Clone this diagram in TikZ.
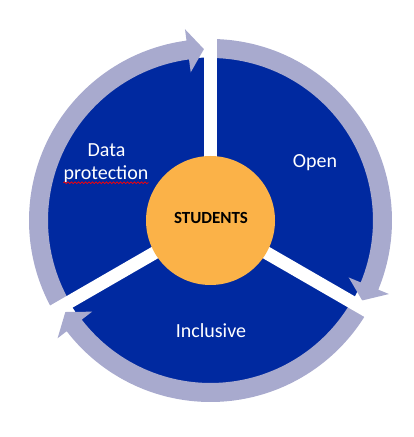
\documentclass[tikz,border=0pt]{standalone}
\usepackage{fontspec}
\setmainfont{Carlito}
\usetikzlibrary{decorations.pathmorphing}
\definecolor{diskblue}{RGB}{0,41,160}
\definecolor{ringlav}{RGB}{168,170,206}
\definecolor{studorange}{RGB}{251,178,72}
\tikzset{
  cyclearrow/.style={fill=ringlav, draw=none},
  sepline/.style={draw=white, line width=13pt},
  seglabel/.style={text=white, inner sep=0pt, anchor=base, font=\fontsize{20}{24}\selectfont},
}
\newcommand{\ringarrow}[2]{% start angle, tip angle
  \pgfmathsetmacro{\hb}{#2+5.4}
  \path[cyclearrow] (#1:181.5pt) arc[start angle=#1, end angle=\hb, radius=181.5pt]
    -- (\hb:193pt) -- (#2:171.5pt) -- (\hb:149.5pt) -- (\hb:162.5pt)
    arc[start angle=\hb, end angle=#1, radius=162.5pt] -- cycle;
}
\begin{document}
\begin{tikzpicture}[x=1pt,y=1pt]
\path[use as bounding box] (0,0) rectangle (414,437);
\coordinate (C) at (210.5,216.5);
\node[circle, fill=diskblue, minimum size=326pt, inner sep=0pt] (disk) at (C) {};
\begin{scope}[shift={(C)}]
  \ringarrow{210}{92.2}
  \ringarrow{90}{-27.8}
  \ringarrow{-30}{-147.8}
  \coordinate (s1) at (90:205pt);
  \coordinate (s2) at (-30:205pt);
  \coordinate (s3) at (210:205pt);
\end{scope}
\draw[sepline] (C) -- (s1);
\draw[sepline] (C) -- (s2);
\draw[sepline] (C) -- (s3);
\node[circle, fill=studorange, minimum size=129pt, inner sep=0pt] (stud) at (C) {};
\node[inner sep=0pt, anchor=base, font=\fontsize{17}{20}\selectfont\bfseries] (studtext) at (211,213) {STUDENTS};
\node[seglabel] (dataA) at (106.5,280) {Data};
\node[seglabel] (dataB) at (106,257) {protection};
\node[seglabel] (open) at (315,269) {Open};
\node[seglabel] (incl) at (211,99) {Inclusive};
\draw[red, line width=0.7pt, decorate, decoration={snake, segment length=3.5pt, amplitude=0.9pt}]
  ([yshift=-2.8pt]dataB.base west) -- ([yshift=-2.8pt]dataB.base east);
\end{tikzpicture}
\end{document}
